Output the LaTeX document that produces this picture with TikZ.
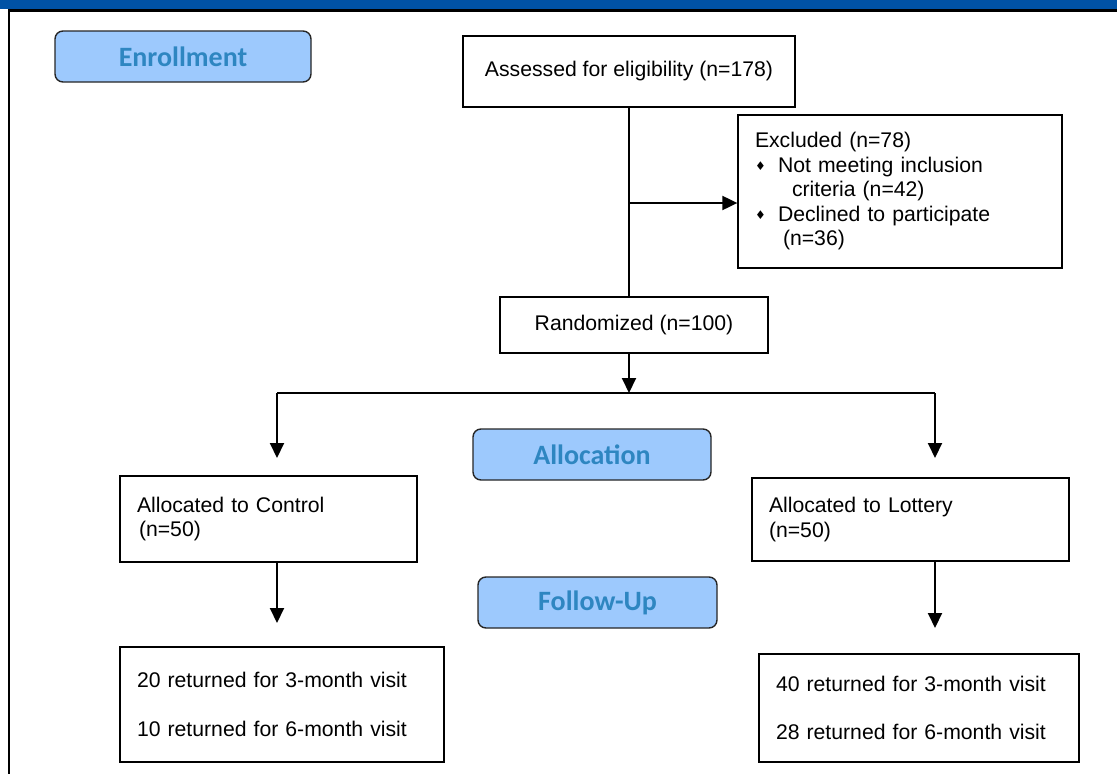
\documentclass[tikz,border=0pt]{standalone}
\usepackage{fontspec}
\setmainfont{Liberation Sans}
\newfontfamily\hdfont{Carlito}
\newfontfamily\djv{DejaVu Sans}
\usetikzlibrary{arrows.meta}
\definecolor{barblue}{RGB}{0,82,165}
\definecolor{hdfill}{RGB}{157,201,253}
\definecolor{hdtext}{RGB}{46,134,193}
\tikzset{
  box/.style={draw=black, line width=1.3pt, fill=white, inner xsep=17pt, inner ysep=0pt, font=\fontsize{21.2}{24.5}\selectfont},
  lbox/.style={box, align=left},
  hd/.style={draw=black!85, line width=1.4pt, rounded corners=8pt, fill=hdfill, text=hdtext, font=\hdfont\bfseries\fontsize{28}{30}\selectfont, minimum height=51pt, inner sep=0pt},
  conn/.style={line width=2pt},
  arr/.style={conn, -{Triangle[length=15pt 0 0,width=14pt 0 0]}}
}
\newcommand{\bul}{\makebox[23pt][l]{\hspace{0pt}\raisebox{1.5pt}{\djv\fontsize{12}{12}\selectfont ♦}}}
\begin{document}
\begin{tikzpicture}[x=1pt,y=-1pt]
\useasboundingbox (0,0) rectangle (1117,774);
% frame
\fill[barblue] (0,0) rectangle (1117,9);
\draw[line width=2.5pt] (8,10.5) -- (1117,10.5);
\draw[line width=1.5pt] (9,10) -- (9,774);
% headers
\node[hd, minimum width=256pt] (enr) at (183,56.5) {Enrollment};
\node[hd, minimum width=238pt] (alloc) at (592,454.5) {Allocation};
\node[hd, minimum width=239pt] (fol) at (597.5,602.5) {Follow-Up};
% boxes
\node[box, minimum width=332pt, minimum height=71pt] (assess) at (629,71.5) {Assessed for eligibility (n=178)};
\node[lbox, text width=290pt, minimum height=153pt] (excl) at (900,191.5) {Excluded (n=78)\\
\bul Not meeting inclusion\\
\hspace{37pt}criteria (n=42)\\
\bul Declined to participate\\
\hspace{28pt}(n=36)};
\node[box, minimum width=268pt, minimum height=56pt] (rand) at (634,325) {Randomized (n=100)};
\node[lbox, text width=263pt, minimum height=86pt] (ctrl) at (268.5,519) {Allocated to Control\\ \hspace{2pt}(n=50)};
\node[lbox, text width=283pt, minimum height=83pt] (lott) at (910.5,519.5) {Allocated to Lottery\\(n=50)};
\node[lbox, text width=290pt, minimum height=115pt] (fl) at (282,704.5) {20 returned for 3-month visit\\[24pt]10 returned for 6-month visit};
\node[lbox, text width=286pt, minimum height=108pt] (fr) at (919,708) {40 returned for 3-month visit\\[23pt]28 returned for 6-month visit};
% connectors
\coordinate (j1) at (629,203);
\coordinate (j2) at (629,393);
\coordinate (jl) at (277,393);
\coordinate (jr) at (935,393);
\coordinate (el) at (277,458);
\coordinate (er) at (935,458);
\coordinate (fl1) at (277,623);
\coordinate (fr1) at (935,628);
\draw[conn] (assess.south -| j1) -- (rand.north -| j1);
\draw[arr] (j1) -- (excl.west |- j1);
\draw[arr] (rand.south -| j2) -- (j2);
\draw[conn] (jl) -- (jr);
\draw[arr] (jl) -- (el);
\draw[arr] (jr) -- (er);
\draw[arr] (ctrl.south -| fl1) -- (fl1);
\draw[arr] (lott.south -| fr1) -- (fr1);
\end{tikzpicture}
\end{document}
